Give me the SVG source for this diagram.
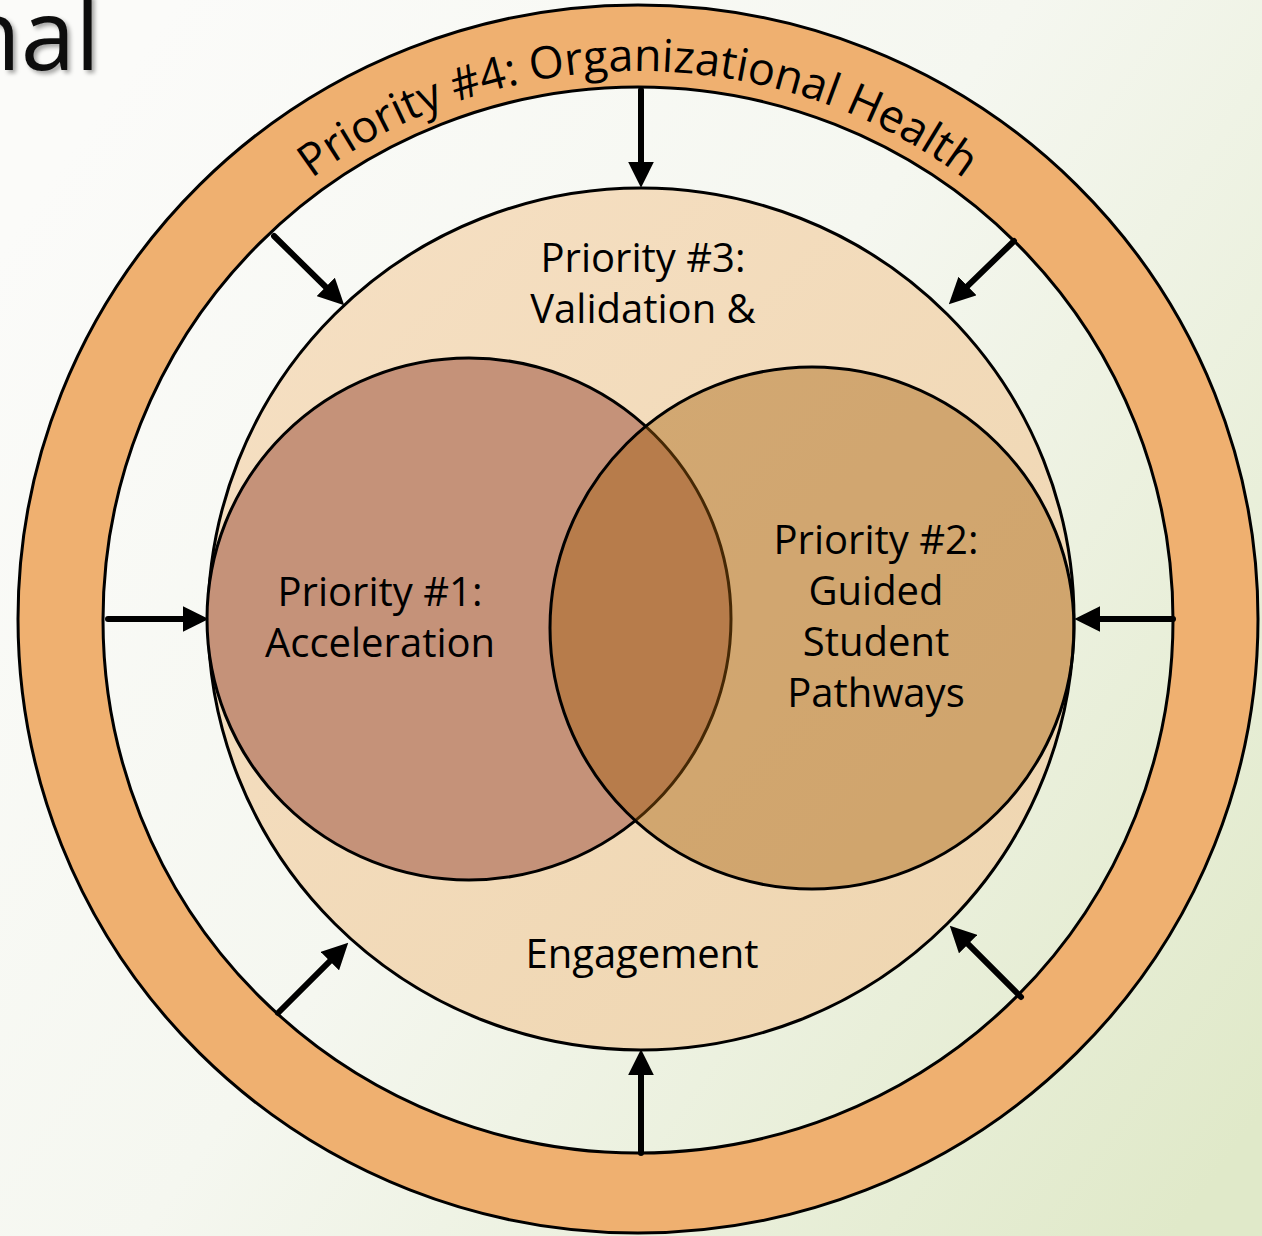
<svg xmlns="http://www.w3.org/2000/svg" width="1262" height="1236" viewBox="0 0 1262 1236">
  <defs>
    <linearGradient id="bg" x1="0" y1="0.2" x2="1" y2="0.9">
      <stop offset="0" stop-color="#FBFBF9"/>
      <stop offset="0.45" stop-color="#F5F7F0"/>
      <stop offset="1" stop-color="#E0E9C9"/>
    </linearGradient>
    <linearGradient id="mid" x1="0" y1="0" x2="1" y2="1">
      <stop offset="0" stop-color="#F6E0C4"/>
      <stop offset="1" stop-color="#EED5AF"/>
    </linearGradient>
    <filter id="sh" x="-20%" y="-20%" width="140%" height="140%">
      <feDropShadow dx="3" dy="3" stdDeviation="2" flood-color="#000" flood-opacity="0.35"/>
    </filter>
    <marker id="ah" markerUnits="userSpaceOnUse" markerWidth="26" markerHeight="26" refX="4" refY="12" orient="auto" viewBox="0 0 24 24">
      <path d="M0,0 L24,12 L0,24 z" fill="#000"/>
    </marker>
    <path id="ringArc" d="M163.4,345 A548,548 0 0 1 1112.6,345"/>
    <style>
      .lbl { font-family: "Open Sans", "Noto Sans", sans-serif; font-size: 40px; fill: #000; text-anchor: middle; }
      .ringtxt { font-family: "Open Sans", "Noto Sans", sans-serif; font-size: 45px; fill: #000; }
      .edge { stroke: #000; stroke-width: 3; }
      .arrow { stroke: #000; stroke-width: 6; stroke-linecap: round; fill: none; marker-end: url(#ah); }
    </style>
  </defs>

  <rect x="0" y="0" width="1262" height="1236" fill="url(#bg)"/>

  <text x="100" y="70" font-family="Open Sans, Noto Sans, sans-serif" font-size="98" fill="#0D0D0D" text-anchor="end" filter="url(#sh)">nal</text>

  <g id="priority4">
    <path d="M18,619 A620,614 0 1 0 1258,619 A620,614 0 1 0 18,619 Z M103,620 A535,533 0 1 1 1173,620 A535,533 0 1 1 103,620 Z" fill="#EFB070" fill-rule="evenodd" class="edge"/>
    <text class="ringtxt"><textPath href="#ringArc" startOffset="50%" text-anchor="middle">Priority #4: Organizational Health</textPath></text>
  </g>

  <g id="priority3">
    <ellipse cx="641" cy="619" rx="433" ry="431" fill="url(#mid)" class="edge"/>
    <text class="lbl" x="643" y="272">Priority #3:</text>
    <text class="lbl" x="643" y="323">Validation &amp;</text>
    <text class="lbl" x="642" y="968">Engagement</text>
  </g>

  <g id="priority1">
    <ellipse cx="469" cy="619" rx="262" ry="261" fill="#C59279" class="edge"/>
    <text class="lbl" x="380" y="606">Priority #1:</text>
    <text class="lbl" x="380" y="657">Acceleration</text>
  </g>

  <g id="priority2">
    <ellipse cx="812" cy="628" rx="262" ry="261" fill="#A55F0B" fill-opacity="0.42" class="edge"/>
    <text class="lbl" x="876" y="554">Priority #2:</text>
    <text class="lbl" x="876" y="605">Guided</text>
    <text class="lbl" x="876" y="656">Student</text>
    <text class="lbl" x="876" y="707">Pathways</text>
  </g>

  <g id="connectors">
    <line class="arrow" x1="641" y1="90" x2="641" y2="166"/>
    <line class="arrow" x1="641" y1="1153" x2="641" y2="1071"/>
    <line class="arrow" x1="108" y1="619" x2="187" y2="619"/>
    <line class="arrow" x1="1173" y1="619" x2="1096" y2="619"/>
    <line class="arrow" x1="274" y1="236" x2="328.8" y2="290"/>
    <line class="arrow" x1="1014" y1="241" x2="964.4" y2="289.1"/>
    <line class="arrow" x1="278" y1="1013" x2="332.9" y2="958.1"/>
    <line class="arrow" x1="1021" y1="997" x2="965.1" y2="941.1"/>
  </g>
</svg>
